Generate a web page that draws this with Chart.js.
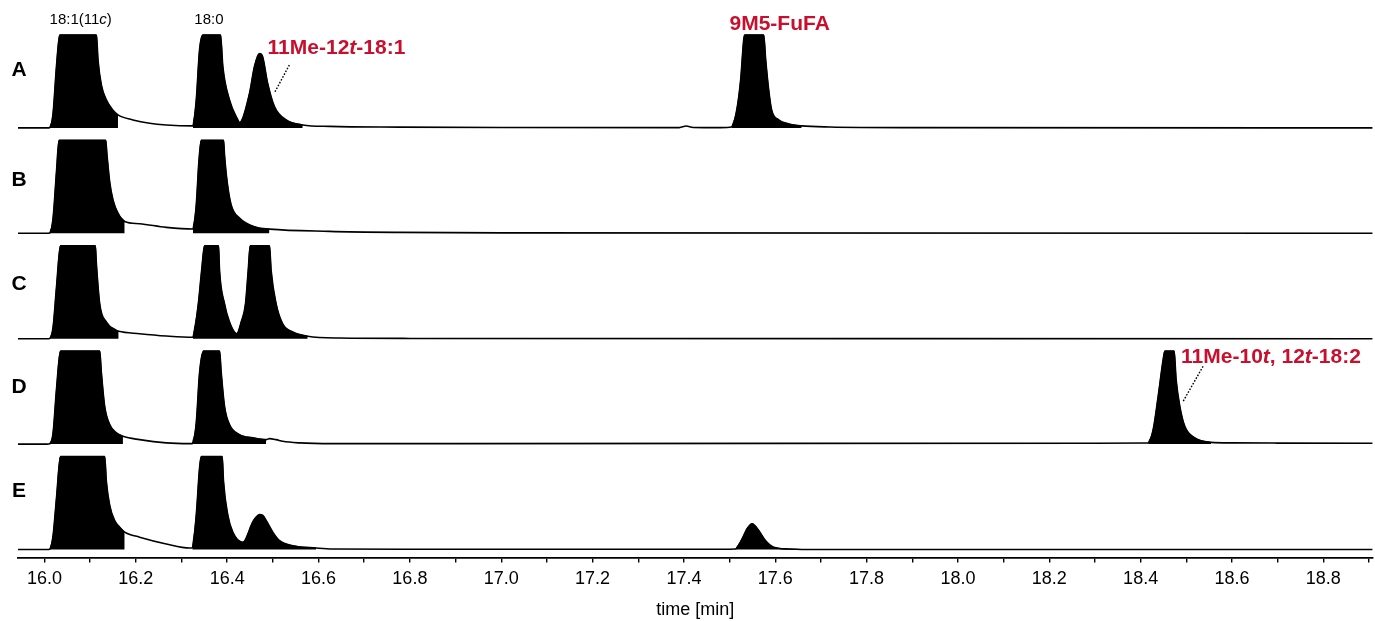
<!DOCTYPE html>
<html>
<head>
<meta charset="utf-8">
<title>GC traces A-E</title>
<script src="https://cdn.jsdelivr.net/npm/chart.js@4.4.1/dist/chart.umd.min.js"></script>
<style>
  html, body { margin: 0; padding: 0; background: #fff; }
  #wrap { width: 1375px; height: 621px; }
</style>
</head>
<body>
<div id="wrap"><canvas id="chart" width="1375" height="621"></canvas></div>
<script>
// panel names, top to bottom
const panels = ['A', 'B', 'C', 'D', 'E'];

// signal in % of the clipped peak height
const timeA = [15.942, 16.005, 16.0116, 16.0188, 16.0262, 16.0334, 16.1137, 16.1172, 16.1246, 16.1356,
               16.15, 16.1609, 16.1937, 16.2302, 16.2667, 16.3249, 16.3323, 16.3395, 16.3467, 16.3854,
               16.3905, 16.4051, 16.4233, 16.427, 16.4488, 16.4597, 16.4707, 16.4773, 16.4883, 16.5035,
               16.5291, 16.5654, 16.624, 16.777, 17.0, 17.39, 17.405, 17.42, 17.48, 17.5047,
               17.5156, 17.5243, 17.531, 17.5332, 17.5747, 17.5791, 17.5856, 17.5922, 17.6075, 17.6294,
               17.6578, 17.72, 17.9, 18.908];
const signalA = [0, 0, 0.3, 15.8, 66, 100, 100, 73, 46, 30,
                 19, 14, 8.6, 5, 3.2, 2.2, 30, 84, 100, 100,
                 66, 30, 8.6, 5.7, 37, 66, 80, 77, 48.6, 22.9,
                 8.6, 3.2, 1.6, 0.8, 0.4, 0.3, 2, 0.5, 0.3, 1,
                 19, 52, 95, 100, 100, 73, 41, 19, 8.6, 4.3,
                 2.2, 1, 0.3, 0];

const timeB = [15.942, 16.005, 16.0116, 16.0188, 16.0262, 16.0319, 16.134, 16.1369, 16.1428, 16.15,
               16.1609, 16.1756, 16.2083, 16.2667, 16.3249, 16.3323, 16.338, 16.3432, 16.392, 16.3942,
               16.4, 16.4087, 16.427, 16.4635, 16.4925, 16.624, 16.777, 17.0, 18.908];
const signalB = [0, 0, 0.3, 16.3, 66, 100, 100, 84, 55, 36,
                 21.6, 12.8, 10.3, 6.4, 4.6, 30.5, 76.6, 100, 100, 84,
                 55, 30.5, 16.3, 6.4, 4.5, 2.1, 1, 0.5, 0];

const timeC = [15.942, 16.005, 16.0116, 16.0188, 16.0262, 16.035, 16.1113, 16.1137, 16.1209, 16.1356,
               16.1574, 16.1624, 16.2083, 16.2667, 16.3249, 16.3368, 16.344, 16.3505, 16.381, 16.3833,
               16.3942, 16.4051, 16.4211, 16.4307, 16.4401, 16.446, 16.4504, 16.4926, 16.4963, 16.5072,
               16.5216, 16.5435, 16.5763, 16.646, 16.8, 18.908];
const signalC = [0, 0, 0.3, 12.5, 55, 100, 100, 80, 37.5, 17.9,
                 9, 8, 5.4, 2.9, 1.5, 37.5, 73, 100, 100, 73,
                 37.5, 17.9, 5.4, 17.9, 37.5, 73, 100, 100, 73, 37.5,
                 16, 7.2, 2.6, 0.7, 0.3, 0];

const timeD = [15.942, 16.005, 16.0116, 16.0188, 16.0262, 16.035, 16.1209, 16.1246, 16.1318, 16.1428,
               16.1574, 16.1718, 16.2083, 16.2667, 16.3177, 16.3236, 16.3323, 16.3395, 16.3483, 16.3833,
               16.387, 16.3942, 16.4051, 16.427, 16.4561, 16.4853, 16.4926, 16.5072, 16.5216, 16.5582,
               16.6309, 16.9, 18.3, 18.4165, 18.4274, 18.4384, 18.4493, 18.453, 18.4733, 18.4777,
               18.4858, 18.4967, 18.5186, 18.5542, 18.6, 18.7, 18.908];
const signalD = [0, 0, 0.3, 12, 58.6, 100, 100, 76.6, 40.6, 21,
                 12, 8.4, 4.8, 1.3, 0.5, 0.5, 22.8, 76.6, 100, 100,
                 76.6, 40.6, 21, 10.2, 6.7, 4.8, 5.9, 4.8, 3, 1.3,
                 0.5, 0.5, 1, 1.2, 15.6, 51.4, 90.9, 100, 100, 69.4,
                 40.6, 19.1, 6.7, 1.9, 1.3, 1.1, 1];

const timeE = [15.942, 16.005, 16.0116, 16.0188, 16.0262, 16.035, 16.1318, 16.1355, 16.1428, 16.1537,
               16.1647, 16.1756, 16.2083, 16.2667, 16.3177, 16.3236, 16.3323, 16.3395, 16.3432, 16.3891,
               16.392, 16.4014, 16.4123, 16.4342, 16.456, 16.4634, 16.4707, 16.478, 16.4853, 16.4998,
               16.5145, 16.5436, 16.5947, 16.63, 16.8, 17.48, 17.5129, 17.5273, 17.5383, 17.5492,
               17.5639, 17.5785, 17.5966, 17.6294, 17.6578, 18.908];
const signalE = [0, 0, 0.3, 15, 55, 100, 100, 73, 47.5, 31,
                 24, 18.7, 13.3, 6, 1.6, 1.6, 37, 87.5, 100, 100,
                 73, 37, 18.7, 7.8, 29.6, 35, 37.5, 36.7, 31.3, 18.7,
                 9.6, 4.1, 1.6, 0.5, 0.3, 0.2, 0.5, 11.4, 22.3, 27.7,
                 20.4, 9.6, 2.4, 0.5, 0, 0];

// integrated (black) peak windows [start, end] in min
const windowsA = [[16.0116, 16.1609], [16.3249, 16.5654], [17.5047, 17.6578]];
const windowsB = [[16.0116, 16.1756], [16.3249, 16.4925]];
const windowsC = [[16.0116, 16.1624], [16.3249, 16.5763]];
const windowsD = [[16.0116, 16.1718], [16.3236, 16.4853], [18.4165, 18.5542]];
const windowsE = [[16.0116, 16.1756], [16.3236, 16.5947], [17.5129, 17.6578]];

// x axis labels
const tickLabels = ['16.0', '16.2', '16.4', '16.6', '16.8', '17.0', '17.2', '17.4',
                    '17.6', '17.8', '18.0', '18.2', '18.4', '18.6', '18.8'];

const times = [timeA, timeB, timeC, timeD, timeE];
const signals = [signalA, signalB, signalC, signalD, signalE];
const windows = [windowsA, windowsB, windowsC, windowsD, windowsE];

const family = '"Liberation Sans", Arial, Helvetica, sans-serif';
const red = '#c8102e';

// peak names: [panel, time, level, align, colour, size, bold, parts([text, italic])]
const peakLabels = [
  ['A', 16.0793, 116, 'center', '#000', 15, false, [['18:1(11', 0], ['c', 1], [')', 0]]],
  ['A', 16.36, 116, 'center', '#000', 15, false, [['18:0', 0]]],
  ['A', 16.4885, 85.5, 'left', red, 21, true, [['11Me-12', 0], ['t', 1], ['-18:1', 0]]],
  ['A', 17.6097, 111.3, 'center', red, 21, true, [['9M5-FuFA', 0]]],
  ['D', 18.4886, 94, 'left', red, 21, true, [['11Me-10', 0], ['t', 1], [', 12', 0], ['t', 1], ['-18:2', 0]]]
];
// dotted leaders: [panel, t1, v1, t2, v2]
const leaders = [
  ['A', 16.5361, 67.7, 16.5033, 37.6],
  ['D', 18.5367, 83.7, 18.493, 46]
];
const letterLevels = [62, 57, 59, 61, 63];

function main() {
  Chart.defaults.font.family = family;
  Chart.defaults.color = '#000';

  const datasets = [];
  panels.forEach((p, i) => {
    const pts = times[i].map((t, j) => ({x: t, y: signals[i][j]}));
    windows[i].forEach(w => {
      datasets.push({
        data: pts.filter(pt => pt.x >= w[0] && pt.x <= w[1]),
        yAxisID: 'y' + p,
        borderColor: '#000',
        borderWidth: 1,
        backgroundColor: '#000',
        pointRadius: 0,
        cubicInterpolationMode: 'monotone',
        fill: {value: 0}
      });
    });
    datasets.push({
      data: pts,
      yAxisID: 'y' + p,
      borderColor: '#000',
      borderWidth: 1.6,
      pointRadius: 0,
      cubicInterpolationMode: 'monotone',
      fill: false
    });
  });

  const scales = {
    x: {
      type: 'linear',
      position: 'bottom',
      min: 15.942,
      max: 18.908,
      afterFit: s => { s.height = 63.5; },
      border: {display: true, color: '#000', width: 1.8},
      grid: {drawOnChartArea: false, drawTicks: true, tickLength: 5, color: '#000', lineWidth: 1.4},
      ticks: {
        stepSize: 0.1,
        includeBounds: false,
        autoSkip: false,
        maxRotation: 0,
        padding: 6,
        color: '#000',
        font: {size: 18},
        callback: v => {
          const s = Number(v).toFixed(1);
          return tickLabels.includes(s) ? s : '';
        }
      },
      title: {display: true, text: 'time [min]', color: '#000', font: {size: 18}, padding: {top: 0, bottom: 0}}
    }
  };
  panels.forEach((p, i) => {
    scales['y' + p] = {
      type: 'linear',
      position: 'left',
      display: false,
      stack: 'traces',
      stackWeight: 1,
      weight: panels.length - i,
      min: -8.6,
      max: 104.8
    };
  });

  const textPlugin = {
    id: 'peakText',
    afterDatasetsDraw(chart) {
      const ctx = chart.ctx;
      const xs = chart.scales.x;
      ctx.save();

      ctx.strokeStyle = '#000';
      ctx.lineWidth = 1.4;
      ctx.setLineDash([1.6, 1.6]);
      leaders.forEach(l => {
        const ys = chart.scales['y' + l[0]];
        ctx.beginPath();
        ctx.moveTo(xs.getPixelForValue(l[1]), ys.getPixelForValue(l[2]));
        ctx.lineTo(xs.getPixelForValue(l[3]), ys.getPixelForValue(l[4]));
        ctx.stroke();
      });
      ctx.setLineDash([]);

      ctx.fillStyle = '#000';
      ctx.font = 'bold 21px ' + family;
      ctx.textAlign = 'center';
      ctx.textBaseline = 'middle';
      panels.forEach((p, i) => {
        ctx.fillText(p, chart.chartArea.left + 1, chart.scales['y' + p].getPixelForValue(letterLevels[i]));
      });

      ctx.textAlign = 'left';
      peakLabels.forEach(lb => {
        const [panel, t, v, align, color, size, bold, parts] = lb;
        const fontOf = it => (it ? 'italic ' : '') + (bold ? 'bold ' : '') + size + 'px ' + family;
        let total = 0;
        parts.forEach(([s, it]) => { ctx.font = fontOf(it); total += ctx.measureText(s).width; });
        let cx = xs.getPixelForValue(t);
        if (align === 'center') cx -= total / 2;
        const cy = chart.scales['y' + panel].getPixelForValue(v);
        ctx.fillStyle = color;
        parts.forEach(([s, it]) => {
          ctx.font = fontOf(it);
          ctx.fillText(s, cx, cy);
          cx += ctx.measureText(s).width;
        });
      });
      ctx.restore();
    }
  };

  new Chart(document.getElementById('chart').getContext('2d'), {
    type: 'line',
    data: {datasets: datasets},
    options: {
      responsive: false,
      animation: false,
      layout: {padding: {top: 30.5, left: 18, right: 0, bottom: 0}},
      plugins: {legend: {display: false}, tooltip: {enabled: false}},
      elements: {line: {tension: 0}},
      scales: scales
    },
    plugins: [textPlugin]
  });
}

window.onload = main;
</script>
</body>
</html>
